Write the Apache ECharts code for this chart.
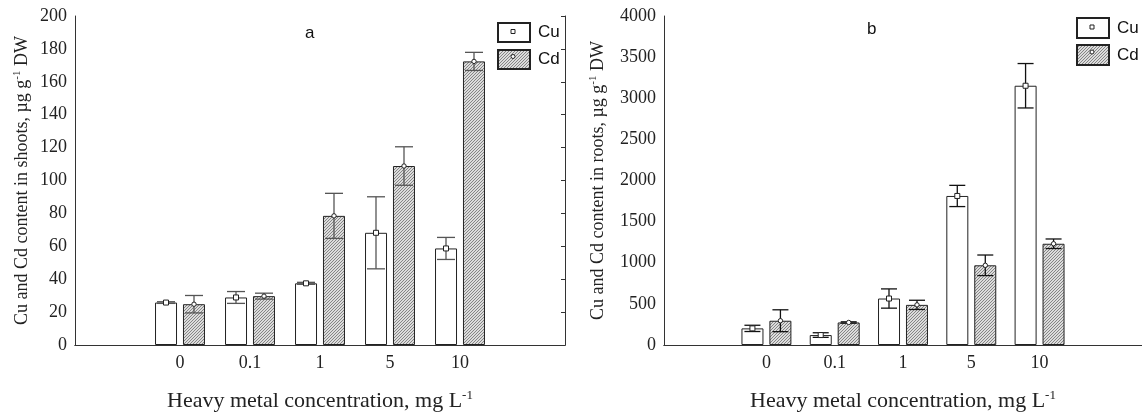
<!DOCTYPE html>
<html>
<head>
<meta charset="utf-8">
<script src="https://cdn.jsdelivr.net/npm/echarts@6.0.0/dist/echarts.min.js"></script>
<style>
html, body { margin: 0; padding: 0; background: #fff; }
#chart { width: 1142px; height: 418px; }
</style>
</head>
<body>
<div id="chart"></div>
<script>
// categories (first and last slot are empty, like the original plot)
var cats = ['', '0', '0.1', '1', '5', '10', ''];

// a - shoots
var shootCu = [25.8, 28.9, 37.5, 68.2, 58.7];
var shootCuErr = [0.5, 3.6, 0.6, 21.9, 6.7];
var shootCd = [24.8, 29.7, 78.5, 108.8, 172.4];
var shootCdErr = [5.3, 1.8, 13.7, 11.7, 5.5];

// b - roots
var rootCu = [202, 121, 565, 1812, 3152];
var rootCuErr = [38, 28, 117, 129, 270];
var rootCd = [295, 274, 488, 969, 1231];
var rootCdErr = [133, 8, 56, 125, 58];

var serif = 'Liberation Serif';
var sans = 'Liberation Sans';
var barW = 22;
var shift = 14;

function hatch() {
    var c = document.createElement('canvas');
    c.width = 3; c.height = 3;
    var g = c.getContext('2d');
    g.fillStyle = '#dcdcdc';
    g.fillRect(0, 0, 3, 3);
    g.strokeStyle = '#7a7a7a';
    g.lineWidth = 0.9;
    g.beginPath();
    g.moveTo(0, 3); g.lineTo(3, 0);
    g.moveTo(-1, 1); g.lineTo(1, -1);
    g.moveTo(2, 4); g.lineTo(4, 2);
    g.stroke();
    return c;
}
var pat = hatch();

function barData(vals) {
    var out = [];
    for (var i = 0; i < vals.length; i++) out.push([i + 1, vals[i]]);
    return out;
}
function errData(vals, errs) {
    var out = [];
    for (var i = 0; i < vals.length; i++) out.push([i + 1, vals[i], errs[i]]);
    return out;
}

function errRender(offset, color, cap, mark) {
    return function(params, api) {
        var x = api.coord([api.value(0), api.value(1)]);
        var hi = api.coord([api.value(0), api.value(1) + api.value(2)])[1];
        var lo = api.coord([api.value(0), api.value(1) - api.value(2)])[1];
        var cx = x[0] + offset;
        var st = { stroke: color, lineWidth: 1.3 };
        var kids = [
            { type: 'line', shape: { x1: cx, y1: hi, x2: cx, y2: lo }, style: st },
            { type: 'line', shape: { x1: cx - cap, y1: hi, x2: cx + cap, y2: hi }, style: st },
            { type: 'line', shape: { x1: cx - cap, y1: lo, x2: cx + cap, y2: lo }, style: st }
        ];
        if (mark == 'rect') {
            kids.push({ type: 'rect', shape: { x: cx - 2.5, y: x[1] - 2.5, width: 5, height: 5 },
                style: { fill: '#fff', stroke: '#222', lineWidth: 1 } });
        } else {
            kids.push({ type: 'circle', shape: { cx: cx, cy: x[1], r: 2.2 },
                style: { fill: '#fff', stroke: '#222', lineWidth: 1 } });
        }
        return { type: 'group', children: kids };
    };
}

function xAxes(grid) {
    return [{
        type: 'category', gridIndex: grid, data: cats, position: 'bottom',
        axisLine: { lineStyle: { color: '#333' } },
        axisTick: { inside: true, alignWithLabel: true, length: 4, lineStyle: { color: '#333' } },
        axisLabel: { fontFamily: serif, fontSize: 18, color: '#222', margin: 9 },
        name: 'Heavy metal concentration, mg L{sup|-1}',
        nameLocation: 'middle', nameGap: 44,
        nameTextStyle: { fontFamily: serif, fontSize: 22, color: '#222', lineHeight: 24,
            rich: { sup: { fontFamily: serif, fontSize: 13, verticalAlign: 'top', lineHeight: 24 } } }
    }, {
        type: 'category', gridIndex: grid, data: cats, position: 'top',
        axisLine: { lineStyle: { color: '#333' } },
        axisTick: { inside: true, alignWithLabel: true, length: 4, lineStyle: { color: '#333' } },
        axisLabel: { show: false }
    }];
}

function yAxes(grid, max, step, name, gap, rightTicks) {
    return [{
        type: 'value', gridIndex: grid, min: 0, max: max, interval: step, position: 'left',
        axisLine: { show: true, lineStyle: { color: '#333' } },
        axisTick: { show: false },
        splitLine: { show: false },
        axisLabel: { fontFamily: serif, fontSize: 18, color: '#222', margin: 8,
            formatter: function(v) { return String(v); } },
        name: name, nameLocation: 'middle', nameGap: gap, nameRotate: 90,
        nameTextStyle: { fontFamily: serif, fontSize: 18, color: '#222', lineHeight: 20,
            rich: { sup: { fontFamily: serif, fontSize: 11, verticalAlign: 'top', lineHeight: 20 } } }
    }, {
        type: 'value', gridIndex: grid, min: 0, max: max, interval: step, position: 'right',
        axisLine: { show: true, lineStyle: { color: '#333' } },
        axisTick: { show: rightTicks, inside: true, length: 4, lineStyle: { color: '#333' } },
        splitLine: { show: false },
        axisLabel: { show: false }
    }];
}

var cuStyle = { color: '#fff', borderColor: '#222', borderWidth: 1 };
var cdStyle = { color: { image: pat, repeat: 'repeat' }, borderColor: '#222', borderWidth: 1 };

function panel(grid, cu, cuErr, cd, cdErr, errColor, cap) {
    var xi = grid * 2, yi = grid * 2;
    return [
        { name: 'Cu', type: 'bar', xAxisIndex: xi, yAxisIndex: yi, barWidth: barW, barGap: '27%',
          itemStyle: cuStyle, data: barData(cu) },
        { name: 'Cd', type: 'bar', xAxisIndex: xi, yAxisIndex: yi, barWidth: barW, barGap: '27%',
          itemStyle: cdStyle, data: barData(cd) },
        { type: 'custom', xAxisIndex: xi, yAxisIndex: yi, z: 5,
          renderItem: errRender(-shift, errColor, cap, 'rect'), data: errData(cu, cuErr) },
        { type: 'custom', xAxisIndex: xi, yAxisIndex: yi, z: 5,
          renderItem: errRender(shift, errColor, cap, 'circle'), data: errData(cd, cdErr) }
    ];
}

function legendMark(x, y, kind) {
    if (kind == 'rect') {
        return { type: 'rect', z: 100, shape: { x: x - 2, y: y - 2, width: 4, height: 4 },
            style: { fill: '#fff', stroke: '#222', lineWidth: 1 } };
    }
    return { type: 'circle', z: 100, shape: { cx: x, cy: y, r: 2 },
        style: { fill: '#fff', stroke: '#222', lineWidth: 1 } };
}

var chart = echarts.init(document.getElementById('chart'), null, { renderer: 'canvas' });
var option = {
    backgroundColor: '#fff',
    animation: false,
    grid: [
        { left: 75, top: 16, width: 490, height: 330 },
        { left: 664, top: 16, width: 480, height: 330 }
    ],
    title: [
        { text: 'a', left: 300, top: 20, textStyle: { fontFamily: sans, fontSize: 17, fontWeight: 'normal', color: '#111' } },
        { text: 'b', left: 862, top: 16, textStyle: { fontFamily: sans, fontSize: 17, fontWeight: 'normal', color: '#111' } }
    ],
    legend: [
        { data: ['Cu', 'Cd'], orient: 'vertical', left: 497, top: 22, padding: 0, icon: 'rect',
          itemWidth: 32, itemHeight: 19, itemGap: 6, selectedMode: false,
          textStyle: { fontFamily: sans, fontSize: 17, color: '#111', padding: [0, 0, 0, 3] } },
        { data: ['Cu', 'Cd'], orient: 'vertical', left: 1076, top: 17, padding: 0, icon: 'rect',
          itemWidth: 32, itemHeight: 20, itemGap: 5, selectedMode: false,
          textStyle: { fontFamily: sans, fontSize: 17, color: '#111', padding: [0, 0, 0, 3] } }
    ],
    graphic: [
        legendMark(513, 31.5, 'rect'), legendMark(513, 56.5, 'circle'),
        legendMark(1092, 27, 'rect'), legendMark(1092, 52, 'circle')
    ],
    xAxis: xAxes(0).concat(xAxes(1)),
    yAxis: yAxes(0, 200, 20, 'Cu and Cd content in shoots, µg g{sup|-1} DW', 43, true)
        .concat(yAxes(1, 4000, 500, 'Cu and Cd content in roots, µg g{sup|-1} DW', 56, false)),
    series: panel(0, shootCu, shootCuErr, shootCd, shootCdErr, '#555', 9)
        .concat(panel(1, rootCu, rootCuErr, rootCd, rootCdErr, '#111', 8))
};
chart.setOption(option);
</script>
</body>
</html>
